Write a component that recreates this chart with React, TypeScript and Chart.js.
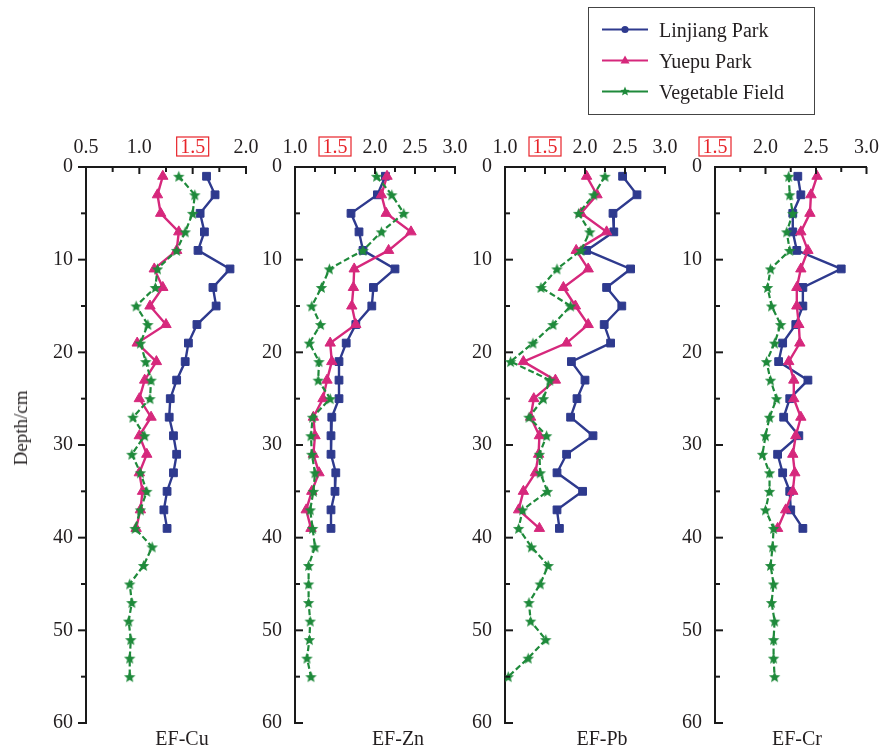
import React, { useEffect, useRef } from 'react';
import { Chart, registerables } from 'chart.js';

Chart.register(...registerables);

// ---------- data ----------
const depthsShort = [1, 3, 5, 7, 9, 11, 13, 15, 17, 19, 21, 23, 25, 27, 29, 31, 33, 35, 37, 39];
const depthsLong = [1, 3, 5, 7, 9, 11, 13, 15, 17, 19, 21, 23, 25, 27, 29, 31, 33, 35, 37, 39, 41, 43, 45, 47, 49, 51, 53, 55];

const seriesNames = ['Linjiang Park', 'Yuepu Park', 'Vegetable Field'];
const panelTitles = ['EF-Cu', 'EF-Zn', 'EF-Pb', 'EF-Cr'];
const depthTicks = [0, 10, 20, 30, 40, 50, 60];

const cuLinjiang = [1.63, 1.71, 1.57, 1.61, 1.55, 1.85, 1.69, 1.72, 1.54, 1.46, 1.43, 1.35, 1.29, 1.28, 1.32, 1.35, 1.32, 1.26, 1.23, 1.26];
const cuYuepu = [1.22, 1.17, 1.2, 1.37, 1.35, 1.14, 1.22, 1.1, 1.25, 0.98, 1.16, 1.05, 1.0, 1.11, 1.0, 1.07, 1.0, 1.03, 1.01, 0.97];
const cuVeg = [1.37, 1.52, 1.5, 1.43, 1.35, 1.17, 1.15, 0.97, 1.08, 1.01, 1.06, 1.11, 1.1, 0.94, 1.05, 0.93, 1.01, 1.07, 1.01, 0.96, 1.12, 1.04, 0.91, 0.93, 0.9, 0.92, 0.91, 0.91];

const znLinjiang = [2.13, 2.03, 1.7, 1.8, 1.85, 2.25, 1.98, 1.96, 1.76, 1.64, 1.55, 1.55, 1.55, 1.46, 1.45, 1.45, 1.51, 1.5, 1.45, 1.45];
const znYuepu = [2.15, 2.08, 2.14, 2.45, 2.17, 1.74, 1.73, 1.71, 1.76, 1.44, 1.46, 1.4, 1.35, 1.23, 1.25, 1.23, 1.3, 1.21, 1.14, 1.2];
const znVeg = [2.02, 2.21, 2.36, 2.08, 1.85, 1.43, 1.33, 1.21, 1.32, 1.18, 1.3, 1.29, 1.44, 1.22, 1.2, 1.21, 1.25, 1.23, 1.19, 1.22, 1.25, 1.17, 1.17, 1.17, 1.19, 1.18, 1.15, 1.2];

const pbLinjiang = [2.47, 2.65, 2.35, 2.36, 2.02, 2.57, 2.27, 2.46, 2.24, 2.32, 1.83, 2.0, 1.9, 1.82, 2.1, 1.77, 1.65, 1.97, 1.65, 1.68];
const pbYuepu = [2.02, 2.15, 1.95, 2.27, 1.89, 2.04, 1.73, 1.88, 2.04, 1.77, 1.23, 1.63, 1.36, 1.32, 1.43, 1.42, 1.38, 1.23, 1.17, 1.43];
const pbVeg = [2.25, 2.11, 1.92, 2.06, 1.95, 1.65, 1.45, 1.82, 1.6, 1.35, 1.07, 1.56, 1.48, 1.3, 1.52, 1.43, 1.44, 1.53, 1.22, 1.17, 1.33, 1.54, 1.44, 1.3, 1.32, 1.51, 1.29, 1.04];

const crLinjiang = [2.32, 2.35, 2.27, 2.27, 2.31, 2.75, 2.37, 2.37, 2.3, 2.17, 2.13, 2.42, 2.24, 2.18, 2.33, 2.12, 2.17, 2.24, 2.25, 2.37];
const crYuepu = [2.51, 2.45, 2.44, 2.35, 2.42, 2.35, 2.31, 2.31, 2.33, 2.34, 2.23, 2.28, 2.28, 2.35, 2.3, 2.27, 2.29, 2.27, 2.2, 2.12];
const crVeg = [2.23, 2.24, 2.27, 2.21, 2.24, 2.05, 2.02, 2.06, 2.15, 2.09, 2.01, 2.05, 2.11, 2.04, 2.0, 1.97, 2.04, 2.04, 2.0, 2.08, 2.07, 2.05, 2.08, 2.06, 2.09, 2.08, 2.08, 2.09];

// ---------- styles / layout ----------
const BLUE = '#2E3A8E';
const PINK = '#D6287C';
const GREEN = '#1F8A3B';
const TEXT = '#231F20';
const AXIS = '#1a1a1a';
const RED = '#E8242A';
const FONT = '"Liberation Serif", "Times New Roman", serif';

const AREA_TOP = 167;
const AREA_BOTTOM = 723;
const CANVAS_TOP = 100;
const CANVAS_H = 649;
const Y_AXIS_W = 80;

const panels = [
  { title: panelTitles[0], min: 0.5, max: 2.0, left: 86, right: 246, padR: 20, yOut: true, titleX: 182, data: [cuLinjiang, cuYuepu, cuVeg] },
  { title: panelTitles[1], min: 1.0, max: 3.0, left: 295, right: 455, padR: 20, yOut: false, titleX: 398, data: [znLinjiang, znYuepu, znVeg] },
  { title: panelTitles[2], min: 1.0, max: 3.0, left: 505, right: 665, padR: 20, yOut: false, titleX: 602, data: [pbLinjiang, pbYuepu, pbVeg] },
  { title: panelTitles[3], min: 1.5, max: 3.0, left: 715, right: 874, padR: 12, yOut: false, titleX: 797, data: [crLinjiang, crYuepu, crVeg] },
];

function isMultiple(v: number, step: number) {
  const r = v / step;
  return Math.abs(r - Math.round(r)) < 1e-6;
}

function makeStar(color: string, size: number) {
  const c = document.createElement('canvas');
  c.width = size;
  c.height = size;
  const g = c.getContext('2d')!;
  const cx = size / 2;
  const cy = size / 2 + 0.6;
  const R = size / 2 - 0.5;
  const r = R * 0.45;
  g.beginPath();
  for (let i = 0; i < 10; i++) {
    const ang = -Math.PI / 2 + (i * Math.PI) / 5;
    const rad = i % 2 === 0 ? R : r;
    const px = cx + Math.cos(ang) * rad;
    const py = cy + Math.sin(ang) * rad;
    if (i === 0) g.moveTo(px, py);
    else g.lineTo(px, py);
  }
  g.closePath();
  g.fillStyle = color;
  g.fill();
  return c;
}

const decorPlugin = {
  id: 'decor',
  afterDraw(chart: any, _args: any, opts: any) {
    const { ctx, chartArea: a } = chart;
    const x = chart.scales.x;
    const y = chart.scales.y;
    ctx.save();
    ctx.strokeStyle = AXIS;
    ctx.lineWidth = 2;
    x.ticks.forEach((t: any) => {
      const px = x.getPixelForValue(t.value);
      const len = isMultiple(t.value, 0.5) ? 7 : 5;
      ctx.beginPath();
      ctx.moveTo(px, a.top);
      ctx.lineTo(px, a.top + len);
      ctx.stroke();
    });
    y.ticks.forEach((t: any) => {
      const py = y.getPixelForValue(t.value);
      const len = isMultiple(t.value, 10) ? 8 : 5;
      const dir = opts.yOut ? -1 : 1;
      ctx.beginPath();
      ctx.moveTo(a.left, py);
      ctx.lineTo(a.left + dir * len, py);
      ctx.stroke();
    });
    // red box around 1.5 label
    const bx = x.getPixelForValue(1.5);
    ctx.strokeStyle = RED;
    ctx.lineWidth = 1.2;
    ctx.strokeRect(bx - 16, a.top - 30, 32, 19);
    // panel title
    ctx.fillStyle = TEXT;
    ctx.font = `20px ${FONT}`;
    ctx.textAlign = 'center';
    ctx.textBaseline = 'middle';
    ctx.fillText(opts.title, opts.titleX, opts.titleY);
    ctx.restore();
  },
};

export default function App() {
  const refs = useRef<(HTMLCanvasElement | null)[]>([]);

  useEffect(() => {
    const star = makeStar(GREEN, 13);
    const charts: Chart[] = [];
    panels.forEach((p, i) => {
      const canvas = refs.current[i];
      if (!canvas) return;
      const canvasLeft = p.left - Y_AXIS_W;
      const mk = (vals: number[], depths: number[]) => vals.map((v, k) => ({ x: v, y: depths[k] }));
      const chart = new Chart(canvas, {
        type: 'line',
        data: {
          datasets: [
            {
              label: seriesNames[0],
              data: mk(p.data[0], depthsShort),
              borderColor: BLUE,
              backgroundColor: BLUE,
              borderWidth: 2.4,
              pointStyle: 'rect',
              pointRadius: 5.5,
              pointBorderWidth: 1,
              pointBackgroundColor: BLUE,
              pointBorderColor: BLUE,
              tension: 0,
              order: 2,
            },
            {
              label: seriesNames[1],
              data: mk(p.data[1], depthsShort),
              borderColor: PINK,
              backgroundColor: PINK,
              borderWidth: 2.4,
              pointStyle: 'triangle',
              pointRadius: 6,
              pointBorderWidth: 1,
              pointBackgroundColor: PINK,
              pointBorderColor: PINK,
              tension: 0,
              order: 1,
            },
            {
              label: seriesNames[2],
              data: mk(p.data[2], depthsLong),
              borderColor: GREEN,
              backgroundColor: GREEN,
              borderWidth: 2.2,
              borderDash: [6, 3],
              pointStyle: star as any,
              pointRadius: 6,
              tension: 0,
              order: 0,
            },
          ],
        },
        options: {
          responsive: false,
          animation: false,
          indexAxis: 'y',
          layout: { padding: { left: 0, right: p.padR, top: 0, bottom: CANVAS_H - (AREA_BOTTOM - CANVAS_TOP) } },
          plugins: {
            legend: { display: false },
            tooltip: { enabled: false },
            decor: { yOut: p.yOut, title: p.title, titleX: p.titleX - canvasLeft, titleY: 740 - CANVAS_TOP },
          } as any,
          scales: {
            x: {
              type: 'linear',
              position: 'top',
              min: p.min,
              max: p.max,
              afterFit: (s: any) => {
                s.height = AREA_TOP - CANVAS_TOP;
              },
              grid: { display: false, drawTicks: false },
              border: { display: true, color: AXIS, width: 2 },
              ticks: {
                stepSize: 0.25,
                autoSkip: false,
                maxRotation: 0,
                padding: 7,
                font: { family: FONT, size: 20 },
                color: (c: any) => (Math.abs(c.tick.value - 1.5) < 1e-6 ? RED : TEXT),
                callback: (v: any) => (isMultiple(Number(v), 0.5) ? Number(v).toFixed(1) : ''),
              },
            },
            y: {
              type: 'linear',
              reverse: true,
              min: depthTicks[0],
              max: depthTicks[depthTicks.length - 1],
              afterFit: (s: any) => {
                s.width = Y_AXIS_W;
              },
              grid: { display: false, drawTicks: false },
              border: { display: true, color: AXIS, width: 2 },
              ticks: {
                stepSize: 5,
                autoSkip: false,
                padding: 13,
                font: { family: FONT, size: 20 },
                color: TEXT,
                callback: (v: any) => (depthTicks.includes(Number(v)) ? String(v) : ''),
              },
            },
          },
        },
        plugins: [decorPlugin as any],
      });
      charts.push(chart);
    });
    return () => charts.forEach((c) => c.destroy());
  }, []);

  const legendRows = [
    { name: seriesNames[0], color: BLUE, marker: 'circle' },
    { name: seriesNames[1], color: PINK, marker: 'triangle' },
    { name: seriesNames[2], color: GREEN, marker: 'star' },
  ];

  const starPts = (() => {
    const pts: string[] = [];
    for (let i = 0; i < 10; i++) {
      const ang = -Math.PI / 2 + (i * Math.PI) / 5;
      const rad = i % 2 === 0 ? 5 : 2.2;
      pts.push(`${(24 + Math.cos(ang) * rad).toFixed(2)},${(8.5 + Math.sin(ang) * rad).toFixed(2)}`);
    }
    return pts.join(' ');
  })();

  return (
    <div style={{ position: 'absolute', left: 0, top: 0, width: 886, height: 749, background: '#fff', overflow: 'hidden', fontFamily: FONT }}>
      {panels.map((p, i) => (
        <canvas
          key={p.title}
          ref={(el) => {
            refs.current[i] = el;
          }}
          width={Y_AXIS_W + (p.right - p.left) + p.padR}
          height={CANVAS_H}
          style={{ position: 'absolute', left: p.left - Y_AXIS_W, top: CANVAS_TOP }}
        />
      ))}
      <div
        style={{
          position: 'absolute',
          left: 21,
          top: 428,
          transform: 'translate(-50%, -50%) rotate(-90deg)',
          fontSize: 19,
          color: TEXT,
          whiteSpace: 'nowrap',
        }}
      >
        Depth/cm
      </div>
      <div
        style={{
          position: 'absolute',
          left: 588,
          top: 7,
          width: 227,
          height: 108,
          border: '1.5px solid #444',
          boxSizing: 'border-box',
          fontSize: 20,
          color: TEXT,
        }}
      >
        {legendRows.map((r, i) => (
          <div key={r.name} style={{ position: 'absolute', left: 0, top: 22 + i * 31 - 12, height: 24, width: '100%' }}>
            <svg width={50} height={17} style={{ position: 'absolute', left: 12, top: 3 }}>
              <line x1={1} y1={8.5} x2={47} y2={8.5} stroke={r.color} strokeWidth={2.2} />
              {r.marker === 'circle' && <circle cx={24} cy={8.5} r={3.6} fill={r.color} />}
              {r.marker === 'triangle' && <polygon points="24,3.5 28.5,11.5 19.5,11.5" fill={r.color} />}
              {r.marker === 'star' && <polygon points={starPts} fill={r.color} />}
            </svg>
            <span style={{ position: 'absolute', left: 70, top: 0, lineHeight: '24px' }}>{r.name}</span>
          </div>
        ))}
      </div>
    </div>
  );
}
